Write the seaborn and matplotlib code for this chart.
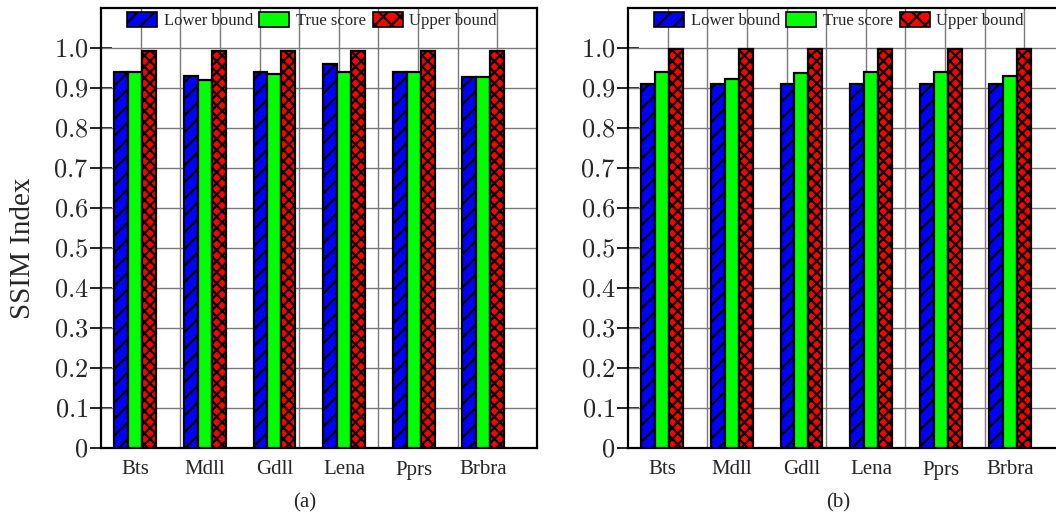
import matplotlib

matplotlib.use("Agg")
import matplotlib.pyplot as plt
import numpy as np
import pandas as pd
import seaborn as sns
from matplotlib.patches import Patch

# --- datos -------------------------------------------------------------------
imagenes = ["Bts", "Mdll", "Gdll", "Lena", "Pprs", "Brbra"]
series = ["Lower bound", "True score", "Upper bound"]

inferior_a = [0.94, 0.93, 0.94, 0.96, 0.94, 0.927]
real_a = [0.94, 0.921, 0.936, 0.94, 0.94, 0.927]
superior_a = [0.993, 0.993, 0.993, 0.993, 0.993, 0.993]

inferior_b = [0.911, 0.911, 0.911, 0.911, 0.911, 0.911]
real_b = [0.94, 0.922, 0.937, 0.94, 0.94, 0.929]
superior_b = [0.997, 0.997, 0.997, 0.997, 0.997, 0.997]

yticks = [0, 0.1, 0.2, 0.3, 0.4, 0.5, 0.6, 0.7, 0.8, 0.9, 1.0]
ytick_labels = ["$0$"] + [f"${v:.1f}$" for v in yticks[1:]]

# --- estilo ------------------------------------------------------------------
AZUL = "#0000ff"
VERDE = "#00ff00"
ROJO = "#ff0000"
COLORES = [AZUL, VERDE, ROJO]
TRAMAS = ["//", "", "xxx"]
SERIF = "Liberation Serif"

sns.set_theme(style="white")
plt.rcParams.update({
    "font.family": [SERIF, "DejaVu Serif"],
    "mathtext.fontset": "cm",
    "hatch.linewidth": 1.6,
    "hatch.color": "black",
})


def tabla(inf, real, sup):
    filas = []
    for nombre, vals in zip(series, [inf, real, sup]):
        for img, v in zip(imagenes, vals):
            filas.append({"imagen": img, "serie": nombre, "ssim": v})
    return pd.DataFrame(filas)


def panel(ax, df):
    sns.barplot(data=df, x="imagen", y="ssim", hue="serie", order=imagenes,
                hue_order=series, palette=COLORES, width=0.6, edgecolor="black",
                linewidth=1.6, saturation=1, legend=False, ax=ax, zorder=3)
    for cont, trama in zip(ax.containers, TRAMAS):
        for barra in cont:
            barra.set_hatch(trama)
    ax.set_xlim(-0.49, 5.77)
    ax.set_ylim(0, 1.1)
    # rejilla
    for y in yticks[1:]:
        ax.axhline(y, color="#7a7a7a", linewidth=1.0, zorder=1)
    for k in range(1, 11):
        f = k / 11
        ax.plot([f, f], [0, 1], transform=ax.transAxes, color="#7a7a7a",
                linewidth=1.0, zorder=1)
    ax.set_yticks(yticks)
    ax.set_yticklabels(ytick_labels, fontsize=19)
    ax.tick_params(axis="y", direction="inout", length=16, width=1.2,
                   color="black", pad=1, left=True)
    ax.tick_params(axis="x", length=0, pad=9, labelsize=15)
    ax.set_xlabel("")
    ax.set_ylabel("")
    for s in ax.spines.values():
        s.set_color("black")
        s.set_linewidth(1.6)
    handles = [Patch(facecolor=c, edgecolor="black", hatch=t, linewidth=1.2)
               for c, t in zip(COLORES, ["//", "", "xx"])]
    ax.legend(handles, series, loc="upper left", bbox_to_anchor=(0.025, 1.025),
              ncol=3, frameon=False, fontsize=12, handlelength=1.8,
              handleheight=1.0, handletextpad=0.4, columnspacing=0.4)


fig = plt.figure(figsize=(10.56, 5.18), dpi=100)
ax_a = fig.add_axes([101 / 1056, 70 / 518, 436 / 1056, 440 / 518])
ax_b = fig.add_axes([628 / 1056, 70 / 518, 436 / 1056, 440 / 518])

panel(ax_a, tabla(inferior_a, real_a, superior_a))
panel(ax_b, tabla(inferior_b, real_b, superior_b))

fig.text(23 / 1056, 1 - 248 / 518, "SSIM Index", rotation=90, ha="center",
         va="center", fontsize=21)

fig.text(305 / 1056, 1 - 503 / 518, "(a)", ha="center", va="center", fontsize=15)
fig.text(838 / 1056, 1 - 503 / 518, "(b)", ha="center", va="center", fontsize=15)

fig.savefig("out.png", dpi=100)
